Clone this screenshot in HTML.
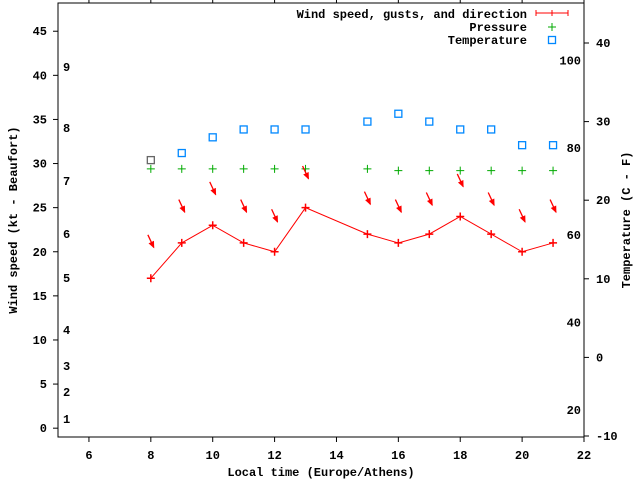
<!DOCTYPE html>
<html><head><meta charset="utf-8"><style>
body{margin:0;background:#fff}
svg text{font-family:"Liberation Mono","DejaVu Sans Mono",monospace;font-size:12px;font-weight:bold}
</style></head><body>
<svg id="c" width="640" height="480" xmlns="http://www.w3.org/2000/svg"></svg>
<script>
const hours=[8,9,10,11,12,13,15,16,17,18,19,20,21];
const windKt=[17,21,23,21,20,25,22,21,22,24,22,20,21];
const gustKt=[21.2,25.2,27.2,25.2,24.1,29,26.1,25.2,26,28.1,26,24.1,25.2];
const windDir=[335,335,335,335,335,335,335,335,335,335,335,335,335];
const pressure=[29.4,29.4,29.4,29.4,29.4,29.4,29.4,29.2,29.2,29.2,29.2,29.2,29.2];
const tempC=[25.1,26,28,29,29,29,30,31,30,29,29,27,27];
const xTicks=[6,8,10,12,14,16,18,20,22];
const yTicks=[0,5,10,15,20,25,30,35,40,45];
const cTicks=[-10,0,10,20,30,40];
const fTicks=[20,40,60,80,100];
const bft=[[1,419],[2,392],[3,366],[4,330],[5,278],[6,234],[7,181],[8,128],[9,67]];
const L=58,R=584,T=3,B=437;
const X=v=>L+(v-5)/(22-5)*(R-L);
const Y=v=>B-(v+1)/(48.2+1)*(B-T);
const YC=c=>436-(c+10)/50*(436-43);
const YF=f=>YC((f-32)*5/9);
const svg=document.getElementById('c');const NS='http://www.w3.org/2000/svg';
function mk(t,a,p){const e=document.createElementNS(NS,t);for(const k in a)e.setAttribute(k,a[k]);(p||svg).appendChild(e);return e;}
function tx(x,y,s,anchor,name){const e=mk('text',{x:x,y:y,'text-anchor':anchor||'start'});e.textContent=s;

return e;}
const frame=mk('rect',{x:L,y:T,width:R-L,height:B-T,fill:'none',stroke:'#000'});


xTicks.forEach(v=>{mk('line',{x1:X(v),x2:X(v),y1:B,y2:B+5,stroke:'#000'});mk('line',{x1:X(v),x2:X(v),y1:T,y2:T-5,stroke:'#000'});
tx(X(v),B+22,String(v),'middle','x-tick-label');});
yTicks.forEach(v=>{mk('line',{x1:L-5,x2:L,y1:Y(v),y2:Y(v),stroke:'#000'});tx(47,Y(v)+4,String(v),'end','y-tick-label');});
cTicks.forEach(v=>{mk('line',{x1:R,x2:R+5,y1:YC(v),y2:YC(v),stroke:'#000'});tx(596,YC(v)+4,String(v),'start','y2-tick-label');});
fTicks.forEach(v=>{tx(581,YF(v)+4,String(v),'end','fahrenheit-label');});
bft.forEach(b=>{tx(63,b[1]+4,String(b[0]),'start','beaufort-label');});
tx(321,476,'Local time (Europe/Athens)','middle','x-axis-title');
const yt=tx(0,0,'Wind speed (kt - Beaufort)','middle','y-axis-title');yt.setAttribute('transform','translate(17,220) rotate(-90)');
const yt2=tx(0,0,'Temperature (C - F)','middle','y2-axis-title');yt2.setAttribute('transform','translate(630,220) rotate(-90)');
// wind line
const pts=hours.map((h,i)=>X(h)+','+Y(windKt[i])).join(' ');
const pl=mk('polyline',{points:pts,fill:'none',stroke:'#f00'});


hours.forEach((h,i)=>{const g=mk('path',{d:`M${X(h)-4},${Y(windKt[i])}h8M${X(h)},${Y(windKt[i])-4}v8`,stroke:'#f00','stroke-width':1.5});

});
// pressure
hours.forEach((h,i)=>{const g=mk('path',{d:`M${X(h)-4},${Y(pressure[i])}h8M${X(h)},${Y(pressure[i])-4}v8`,stroke:'#0a0'});

});
// direction arrows
hours.forEach((h,i)=>{const a=(windDir[i]-180)*Math.PI/180;const cx=X(h),cy=Y(gustKt[i]);
const dx=Math.sin(a)*7,dy=-Math.cos(a)*7;
const x1=cx-dx,y1=cy-dy,x2=cx+dx,y2=cy+dy;const ux=dx/7,uy=dy/7;
const g=mk('g',{});


mk('line',{x1:x1,y1:y1,x2:x2,y2:y2,stroke:'#f00','stroke-width':1.3},g);
mk('polygon',{points:`${x2+ux},${y2+uy} ${x2-ux*6-uy*3},${y2-uy*6+ux*3} ${x2-ux*6+uy*3},${y2-uy*6-ux*3}`,fill:'#f00'},g);});
// temperature
hours.forEach((h,i)=>{const r=mk('rect',{x:X(h)-3.5,y:YC(tempC[i])-3.5,width:7,height:7,fill:'none',stroke:i==0?'#666':'#08f','stroke-width':1.3});

});
// legend
tx(527,18,'Wind speed, gusts, and direction','end','legend-wind');
const lw=mk('path',{d:'M536,13h32M536,10v6M552,10v6M568,10v6',stroke:'#f00'});


tx(527,31,'Pressure','end','legend-pressure');
const lp=mk('path',{d:'M548,27h8M552,23v8',stroke:'#0a0'});


tx(527,44,'Temperature','end','legend-temperature');
const lt=mk('rect',{x:548.5,y:36.5,width:7,height:7,fill:'none',stroke:'#08f','stroke-width':1.3});


</script>
</body></html>
